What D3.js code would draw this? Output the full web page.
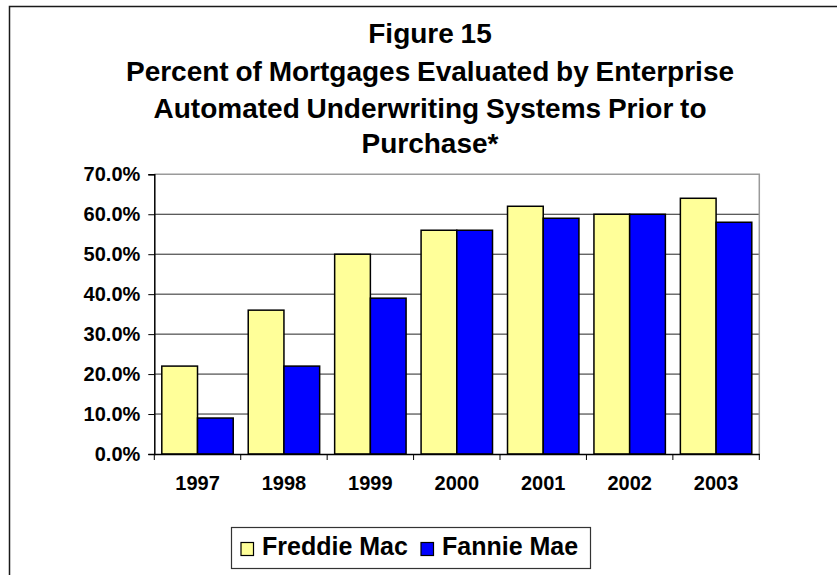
<!DOCTYPE html>
<html>
<head>
<meta charset="utf-8">
<script src="https://cdnjs.cloudflare.com/ajax/libs/d3/7.8.5/d3.min.js"></script>
<style>
  body { margin: 0; background: #fff; }
  svg { display: block; font-family: "Liberation Sans", Arial, sans-serif; }
  .tick text { font-weight: bold; fill: #000; }
</style>
</head>
<body>
<div id="chart"></div>
<script>
// data
var years = ["1997", "1998", "1999", "2000", "2001", "2002", "2003"];
var seriesNames = ["Freddie Mac", "Fannie Mae"];
var freddieMac = [0.22, 0.36, 0.50, 0.56, 0.62, 0.60, 0.64];
var fannieMae = [0.09, 0.22, 0.39, 0.56, 0.59, 0.60, 0.58];
var seriesColors = ["#ffff99", "#0000ff"];
var titleLines = ["Figure 15",
    "Percent of Mortgages Evaluated by Enterprise",
    "Automated Underwriting Systems Prior to",
    "Purchase*"];

//chart set up
var svgWidth = 837;
var svgHeight = 575;
var plot = { left: 154.3, right: 759.3, top: 174.3, bottom: 454 };

var svg = d3.select("#chart")
    .append("svg")
    .attr("width", svgWidth)
    .attr("height", svgHeight);

// outer chart frame (runs off the right / bottom edge)
svg.append("rect")
    .attr("x", 9.5)
    .attr("y", 6.5)
    .attr("width", 900)
    .attr("height", 700)
    .attr("fill", "none")
    .attr("stroke", "#1a1a1a")
    .attr("stroke-width", 1.5);

// title
svg.append("g")
    .selectAll("text")
    .data(titleLines)
    .enter()
    .append("text")
    .attr("x", 430)
    .attr("y", (d, i) => [43, 80.5, 117.5, 153][i])
    .attr("text-anchor", "middle")
    .attr("font-size", "28px")
    .attr("font-weight", "bold")
    .attr("word-spacing", "-1px")
    .text(d => d);

// scales
var x0 = d3.scaleBand()
    .domain(years)
    .range([plot.left, plot.right])
    .padding(0);
var x1 = d3.scaleBand()
    .domain(seriesNames)
    .range([0, x0.bandwidth()])
    .paddingInner(0)
    .paddingOuter(0.21);
var y = d3.scaleLinear()
    .domain([0, 0.7])
    .range([plot.bottom, plot.top]);
var color = d3.scaleOrdinal().domain(seriesNames).range(seriesColors);

// gridlines
svg.append("g")
    .selectAll("line")
    .data(d3.range(1, 7).map(v => v / 10))
    .enter()
    .append("line")
    .attr("x1", plot.left)
    .attr("x2", plot.right)
    .attr("y1", d => y(d))
    .attr("y2", d => y(d))
    .attr("stroke", "#262626")
    .attr("stroke-width", 1);

// plot area border top / right (grey)
svg.append("path")
    .attr("d", `M${plot.left},${y(0.7)}H${plot.right}V${plot.bottom}`)
    .attr("fill", "none")
    .attr("stroke", "#9a9a9a")
    .attr("stroke-width", 1.5);

// bars
var rows = years.map((yr, i) => ({ year: yr, values: [freddieMac[i], fannieMae[i]] }));
var groups = svg.append("g")
    .selectAll("g")
    .data(rows)
    .enter()
    .append("g")
    .attr("transform", d => `translate(${x0(d.year)},0)`);

groups.selectAll("rect")
    .data(d => d.values.map((v, j) => ({ key: seriesNames[j], value: v })))
    .enter()
    .append("rect")
    .attr("x", d => x1(d.key))
    .attr("y", d => y(d.value))
    .attr("width", x1.bandwidth())
    .attr("height", d => y(0) - y(d.value))
    .attr("fill", d => color(d.key))
    .attr("stroke", "#000")
    .attr("stroke-width", 1.5);

// y axis
var leftAxis = d3.axisLeft(y)
    .tickValues(d3.range(0, 8).map(v => v / 10))
    .tickFormat(d3.format(".1%"))
    .tickSize(6)
    .tickPadding(8);
var yAxis = svg.append("g")
    .attr("transform", `translate(${plot.left},0)`)
    .call(leftAxis);
yAxis.selectAll("text").attr("font-size", "20px");
yAxis.select(".domain").attr("stroke-width", 1.5);

// x axis: ticks on category boundaries
var bottomAxis = d3.axisBottom(x0)
    .tickSize(0)
    .tickPadding(22);
var xAxis = svg.append("g")
    .attr("transform", `translate(0,${plot.bottom})`)
    .call(bottomAxis);
xAxis.selectAll("text").attr("font-size", "20px");
xAxis.select(".domain").attr("stroke-width", 1.5);
xAxis.selectAll(".boundary")
    .data(years.map(d => x0(d)).concat([x0(years[years.length - 1]) + x0.bandwidth()]))
    .enter()
    .append("line")
    .attr("class", "boundary")
    .attr("x1", d => d)
    .attr("x2", d => d)
    .attr("y1", 0)
    .attr("y2", 6)
    .attr("stroke", "#000");

// legend
var legend = svg.append("g");
legend.append("rect")
    .attr("x", 231.5)
    .attr("y", 527.5)
    .attr("width", 359)
    .attr("height", 41)
    .attr("fill", "#fff")
    .attr("stroke", "#333")
    .attr("stroke-width", 1.2);
var legendX = [241, 421];
var items = legend.selectAll("g")
    .data(seriesNames)
    .enter()
    .append("g")
    .attr("transform", (d, i) => `translate(${legendX[i]},0)`);
items.append("rect")
    .attr("x", 0)
    .attr("y", 542.5)
    .attr("width", 12.5)
    .attr("height", 13)
    .attr("fill", d => color(d))
    .attr("stroke", "#000")
    .attr("stroke-width", 1.2);
items.append("text")
    .attr("x", 21)
    .attr("y", 555)
    .attr("font-size", "25px")
    .attr("font-weight", "bold")
    .text(d => d);
</script>
</body>
</html>
